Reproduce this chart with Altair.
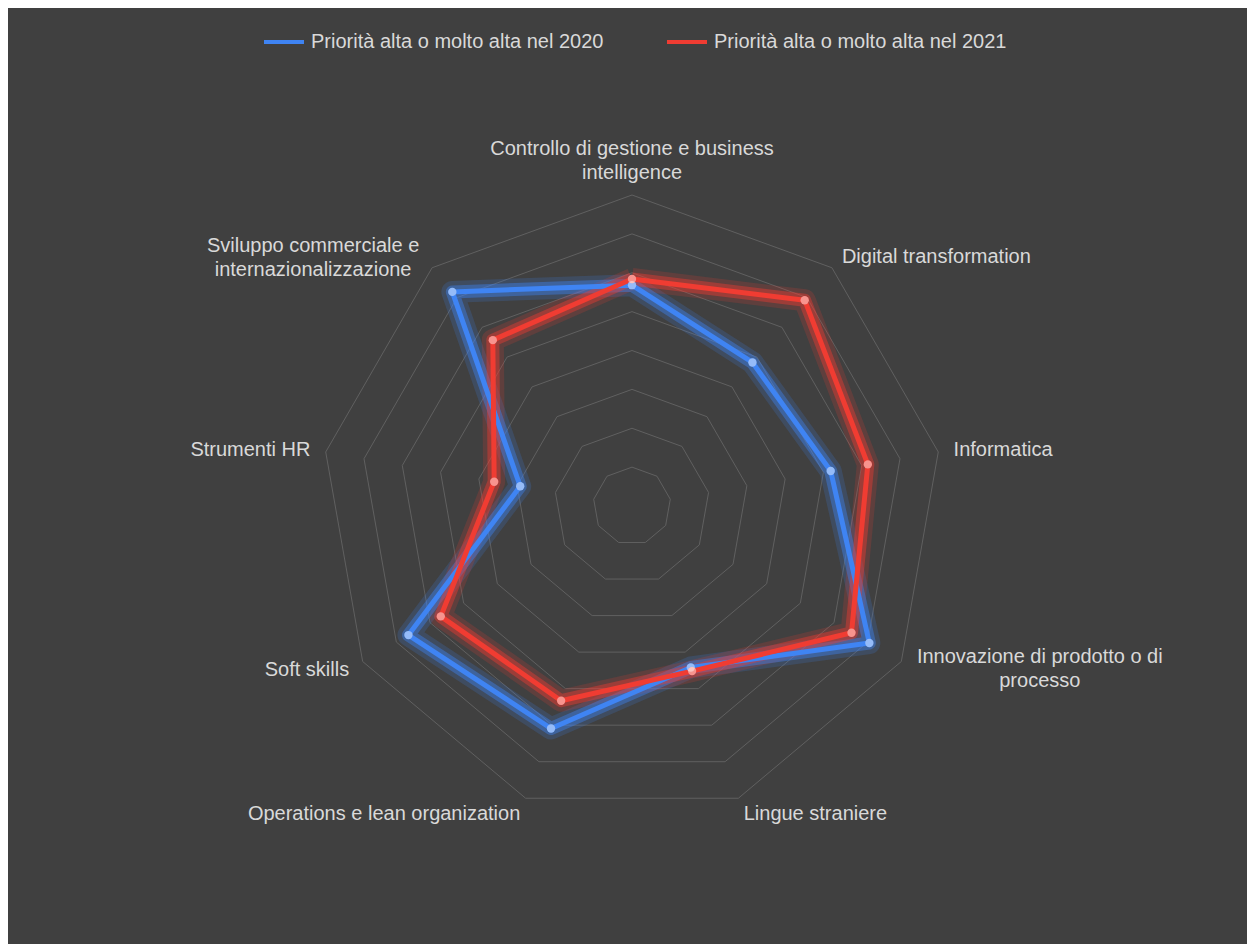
import math
import altair as alt
import pandas as pd

# ---- data ----
categories = [
    "Controllo di gestione e business intelligence",
    "Digital transformation",
    "Informatica",
    "Innovazione di prodotto o di processo",
    "Lingue straniere",
    "Operations e lean organization",
    "Soft skills",
    "Strumenti HR",
    "Sviluppo commerciale e internazionalizzazione",
]
category_labels = [
    "Controllo di gestione e business\nintelligence",
    "Digital transformation",
    "Informatica",
    "Innovazione di prodotto o di\nprocesso",
    "Lingue straniere",
    "Operations e lean organization",
    "Soft skills",
    "Strumenti HR",
    "Sviluppo commerciale e\ninternazionalizzazione",
]
series_names = ["Priorità alta o molto alta nel 2020", "Priorità alta o molto alta nel 2021"]
values_2020 = [56.8, 48.2, 51.9, 70.5, 44.2, 60.9, 66.4, 29.2, 71.9]
values_2021 = [58.4, 69.1, 61.6, 65.2, 45.2, 53.3, 56.8, 36.0, 55.7]
grid_levels = [10, 20, 30, 40, 50, 60, 70, 80]
axis_max = 80

series_colors = ["#3f84f3", "#f03c32"]
bg = "#404040"
text_color = "#d9d9d9"
grid_color = "#606060"
n = len(categories)

# ---- tables built from the arrays ----
rows = []
for s, vals in zip(series_names, [values_2020, values_2021]):
    for i in range(n + 1):
        rows.append({"series": s, "idx": i % n, "ord": i, "value": vals[i % n]})
df_series = pd.DataFrame(rows)
df_points = df_series[df_series["ord"] < n]

grid_rows = []
for lv in grid_levels:
    for i in range(n + 1):
        grid_rows.append({"level": lv, "idx": i % n, "ord": i, "value": lv})
df_grid = pd.DataFrame(grid_rows)

df_labels = pd.DataFrame({"idx": list(range(n)), "label": category_labels,
                          "value": [axis_max * 1.05] * n})

# polar -> cartesian
calc_x = f"datum.value * sin(datum.idx * 2 * PI / {n})"
calc_y = f"datum.value * cos(datum.idx * 2 * PI / {n})"

# scales: 311 px for the axis maximum, centred in the dark area
W, H = 1239, 936
px_per_unit = 311.0 / axis_max
cx, cy = 624, 498
xdom = [-cx / px_per_unit, (W - cx) / px_per_unit]
ydom = [-(H - cy) / px_per_unit, cy / px_per_unit]
X = alt.X("x:Q", scale=alt.Scale(domain=xdom, nice=False, zero=False), axis=None)
Y = alt.Y("y:Q", scale=alt.Scale(domain=ydom, nice=False, zero=False), axis=None)
color_scale = alt.Scale(domain=series_names, range=series_colors)

grid = alt.Chart(df_grid).transform_calculate(x=calc_x, y=calc_y).mark_line(
    stroke=grid_color, strokeWidth=1
).encode(x=X, y=Y, detail="level:N", order="ord:Q")

base = alt.Chart(df_series).transform_calculate(x=calc_x, y=calc_y)

glow_wide = base.mark_line(strokeWidth=22, opacity=0.18, strokeJoin="round").encode(
    x=X, y=Y, order="ord:Q",
    color=alt.Color("series:N", scale=color_scale, legend=None))
glow = base.mark_line(strokeWidth=13, opacity=0.42, strokeJoin="round").encode(
    x=X, y=Y, order="ord:Q",
    color=alt.Color("series:N", scale=color_scale, legend=None))
lines = base.mark_line(strokeWidth=5, strokeJoin="round").encode(
    x=X, y=Y, order="ord:Q",
    color=alt.Color("series:N", scale=color_scale, title=None,
                    legend=alt.Legend(orient="none", direction="horizontal",
                                      legendX=254, legendY=12, padding=0,
                                      symbolType="stroke", symbolSize=1600,
                                      symbolStrokeWidth=4, labelFontSize=20,
                                      labelFont="Liberation Sans", labelColor=text_color,
                                      labelOffset=5, columnPadding=55, labelLimit=400)))

pbase = alt.Chart(df_points).transform_calculate(x=calc_x, y=calc_y)
points = pbase.mark_circle(size=70, opacity=1).encode(
    x=X, y=Y, color=alt.Color("series:N", scale=color_scale, legend=None))
points_hi = pbase.mark_circle(size=70, color="white", opacity=0.45).encode(x=X, y=Y)

lbase = alt.Chart(df_labels).transform_calculate(x=calc_x, y=calc_y)
tstyle = dict(font="Liberation Sans", fontSize=20, color=text_color, lineBreak="\n", lineHeight=24)
lab_left = lbase.transform_filter("indexof([1,2,4], datum.idx) >= 0").mark_text(
    align="left", baseline="middle", dy=1, **tstyle).encode(x=X, y=Y, text="label:N")
lab_right = lbase.transform_filter("indexof([5,6,7], datum.idx) >= 0").mark_text(
    align="right", baseline="middle", dy=1, **tstyle).encode(x=X, y=Y, text="label:N")
lab_top = lbase.transform_filter("datum.idx == 0").mark_text(
    align="center", baseline="bottom", dy=-20, **tstyle).encode(x=X, y=Y, text="label:N")
lab_innov = lbase.transform_filter("datum.idx == 3").mark_text(
    align="center", baseline="middle", dx=125, dy=-12, **tstyle).encode(x=X, y=Y, text="label:N")
lab_svil = lbase.transform_filter("datum.idx == 8").mark_text(
    align="center", baseline="middle", dx=-109, dy=-10, **tstyle).encode(x=X, y=Y, text="label:N")

chart = alt.layer(
    grid, glow_wide, glow, lines, points, points_hi,
    lab_left, lab_right, lab_top, lab_innov, lab_svil
).resolve_scale(color="independent").properties(
    width=W, height=H,
    autosize=alt.AutoSizeParams(type="none"),
    padding={"left": 8, "top": 8, "right": 0, "bottom": 0},
    background="white",
).configure_view(fill=bg, stroke=None)

chart.save("out.html", embed_options={"renderer": "svg", "actions": False})
